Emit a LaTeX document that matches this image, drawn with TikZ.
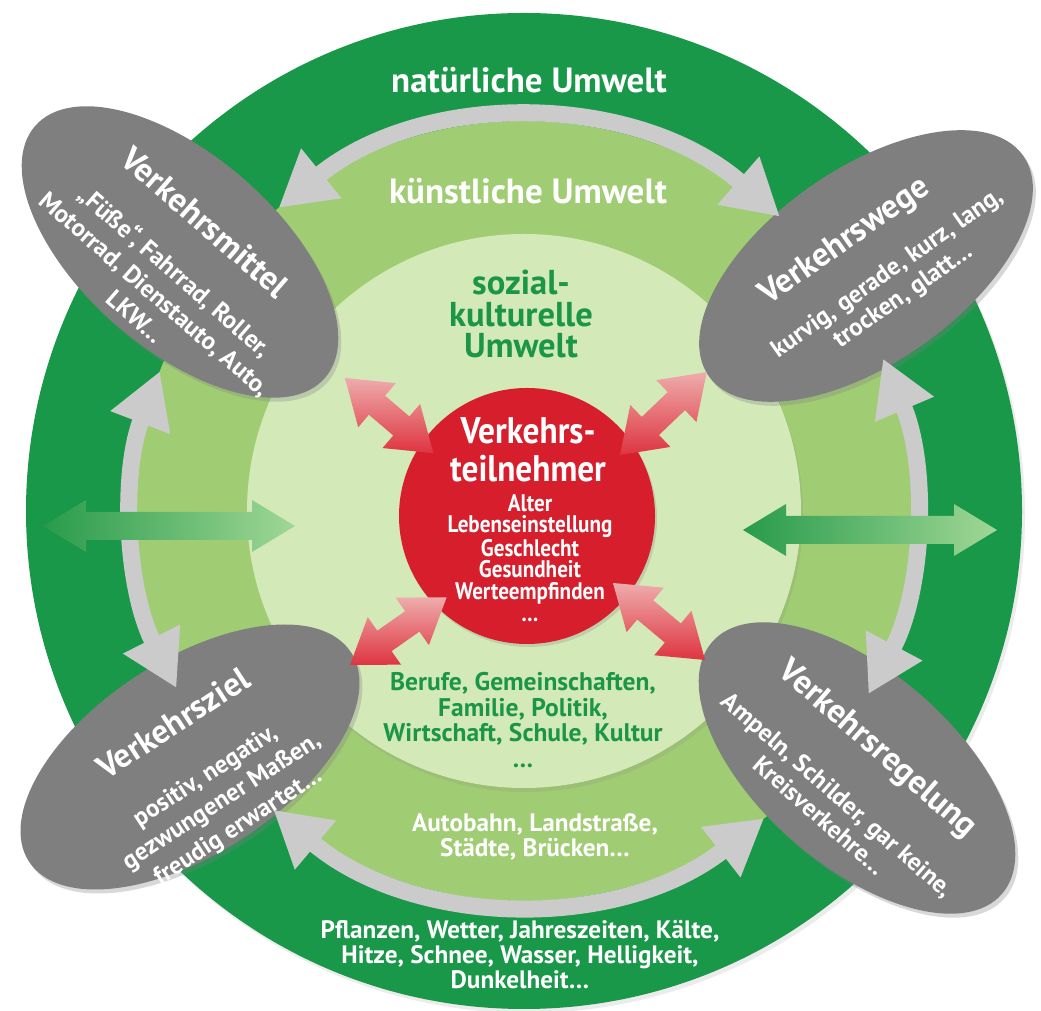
\documentclass[tikz,border=0pt]{standalone}
\usepackage{fontspec}
\setmainfont{PT Sans}
\usetikzlibrary{shapes.geometric,arrows.meta,shadows,calc}
\definecolor{darkg}{RGB}{24,152,72}
\definecolor{midg}{RGB}{160,205,115}
\definecolor{lightg}{RGB}{212,233,184}
\definecolor{ellgray}{RGB}{127,127,127}
\definecolor{arcgray}{RGB}{203,203,203}
\definecolor{redc}{RGB}{214,30,44}
\definecolor{txtg}{RGB}{26,150,70}
\definecolor{pinklt}{RGB}{238,172,172}
\definecolor{pinkdk}{RGB}{222,52,64}
\definecolor{gdark}{RGB}{40,155,75}
\definecolor{glight}{RGB}{160,215,150}
\newcommand\redarrow[4]{%
  \coordinate (#4) at #1;
  \path[redarr, shift={(#4)}, rotate=#2] (0,0) -- (42,29) -- (42,12.5) -- (#3-42,12.5) -- (#3-42,29) -- (#3,0) -- (#3-42,-29) -- (#3-42,-12.5) -- (42,-12.5) -- (42,-29) -- cycle;}
\newcommand\greenarrow[3]{%
  \path[greenarr] (#1,#3) -- (#1+43,#3+26) -- (#1+43,#3+14) -- (#2-43,#3+14) -- (#2-43,#3+26) -- (#2,#3) -- (#2-43,#3-26) -- (#2-43,#3-14) -- (#1+43,#3-14) -- (#1+43,#3-26) -- cycle;}
\begin{document}
\begin{tikzpicture}[x=1pt,y=1pt,
  disc/.style={circle, inner sep=0pt, draw=none},
  ell/.style={ellipse, draw=none, fill=ellgray, inner sep=0pt, minimum width=384pt, minimum height=194pt,
     drop shadow={shadow xshift=3pt, shadow yshift=-4pt, opacity=.3}},
  ringarrow/.style={line width=17pt, draw=arcgray, {Triangle[width=60pt,length=55pt]}-{Triangle[width=60pt,length=55pt]}},
  redarr/.style={top color=pinklt, bottom color=pinkdk},
  greenarr/.style={left color=gdark, right color=glight},
  ttl/.style={text=white, font=\bfseries\fontsize{33.5}{36}\selectfont, inner sep=0pt},
  body/.style={text=white, font=\bfseries\fontsize{25}{30}\selectfont, align=center, inner sep=0pt},
  ringtxt/.style={text=white, font=\bfseries\fontsize{35}{36}\selectfont, inner sep=0pt, anchor=base},
  blocktxt/.style={font=\bfseries\fontsize{25.5}{25.7}\selectfont, align=center, inner sep=0pt, anchor=north},
]
\useasboundingbox (0,0) rectangle (1041,1011);
\fill[white] (0,0) rectangle (1041,1011);
\coordinate (O) at (524,500);
% environment discs
\node[disc, fill=darkg, minimum size=996pt, drop shadow={shadow xshift=3pt, shadow yshift=-4pt, opacity=.15}] (natural) at (O) {};
\node[disc, fill=midg, minimum size=780pt] (artificial) at (O) {};
\node[disc, fill=lightg, minimum size=554pt, drop shadow={shadow xshift=2pt, shadow yshift=-4pt, opacity=.18}] (social) at (O) {};
% grey ellipses
\node[ell, rotate=-41] (mittel) at (180,759) {};
\node[ell, rotate=35] (wege) at (866,745) {};
\node[ell, rotate=33] (ziel) at (190,254) {};
\node[ell, rotate=-41] (regel) at (857,243) {};
% circular arrows
\draw[ringarrow] ($(O)+(49:390)$) arc[start angle=49, end angle=129, radius=390];
\draw[ringarrow] ($(O)+(159:390)$) arc[start angle=159, end angle=207, radius=390];
\draw[ringarrow] ($(O)+(-28:390)$) arc[start angle=-28, end angle=23, radius=390];
\draw[ringarrow] ($(O)+(230:390)$) arc[start angle=230, end angle=308, radius=390];
% green arrows
\greenarrow{43}{295}{485}
\greenarrow{743}{997}{481}
% red circle
\node[disc, fill=redc, minimum size=256pt, drop shadow={shadow xshift=2pt, shadow yshift=-3pt, opacity=.25}] (user) at (527,495) {};
% red arrows
\redarrow{(345,633)}{-40.4}{116}{ra1}
\redarrow{(620,556)}{43.7}{120}{ra2}
\redarrow{(350,346)}{35}{118}{ra3}
\redarrow{(613,428)}{-39.9}{120}{ra4}
% ring texts
\node[ringtxt] (tnat) at (529,918) {natürliche Umwelt};
\node[ringtxt] (tart) at (528,807) {künstliche Umwelt};
\node[blocktxt, text=txtg, font=\bfseries\fontsize{34.5}{31.5}\selectfont] (tsoc) at (521,741) {sozial-\\kulturelle\\Umwelt};
% red circle texts
\begin{scope}[shift={(528,594)}]
\node[blocktxt, text=white, font=\bfseries\fontsize{37}{38}\selectfont, xscale=.9, transform shape] (tuser) at (0,0) {Verkehrs-\\teilnehmer};
\end{scope}
\begin{scope}[shift={(530,517)}]
\node[blocktxt, text=white, font=\bfseries\fontsize{24}{21.7}\selectfont, xscale=.88, transform shape] (tuserb) at (0,0) {Alter\\Lebenseinstellung\\Geschlecht\\Gesundheit\\Werteempfinden\\…};
\end{scope}
% lower texts
\node[blocktxt, text=txtg] (tsocb) at (523,339) {Berufe, Gemeinschaften,\\Familie, Politik,\\Wirtschaft, Schule, Kultur\\…};
\node[blocktxt, text=white, font=\bfseries\fontsize{25.2}{25}\selectfont] (tartb) at (535,198) {Autobahn, Landstraße,\\Städte, Brücken…};
\node[blocktxt, text=white, font=\bfseries\fontsize{25.2}{25}\selectfont] (tnatb) at (520,91) {Pflanzen, Wetter, Jahreszeiten, Kälte,\\Hitze, Schnee, Wasser, Helligkeit,\\Dunkelheit…};
% ellipse texts
\node[ttl, rotate=-41] (tmittel) at (205,789) {Verkehrsmittel};
\node[body, rotate=-41] (bmittel) at (156,718) {„Füße“, Fahrrad, Roller,\\Motorrad, Dienstauto, Auto,\\LKW…};
\node[ttl, rotate=35] (twege) at (845,769) {Verkehrswege};
\node[body, rotate=35, font=\bfseries\fontsize{25}{27.5}\selectfont] (bwege) at (896,726) {kurvig, gerade, kurz, lang,\\trocken, glatt…};
\node[ttl, rotate=33] (tziel) at (173,288) {Verkehrsziel};
\node[body, rotate=33] (bziel) at (222,209) {positiv, negativ,\\gezwungener Maßen,\\freudig erwartet…};
\node[ttl, rotate=-41] (tregel) at (877,261) {Verkehrsregelung};
\node[body, rotate=-41, font=\bfseries\fontsize{25}{27.5}\selectfont] (bregel) at (829,206) {Ampeln, Schilder, gar keine,\\Kreisverkehre…};
\end{tikzpicture}
\end{document}
